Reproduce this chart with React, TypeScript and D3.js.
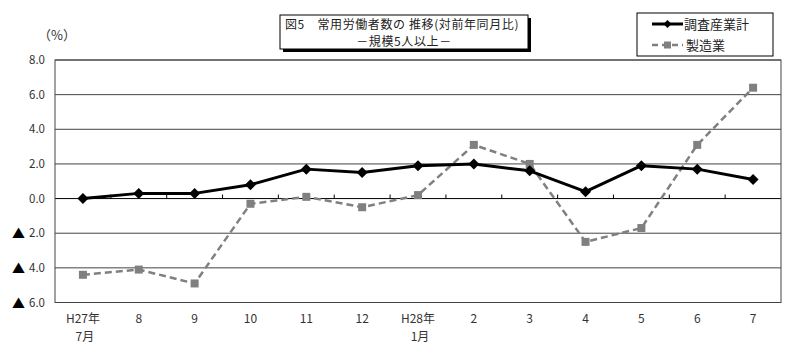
import React from "react";
import * as d3 from "d3";

const categories = ["H27年|7月", "8", "9", "10", "11", "12", "H28年|1月", "2", "3", "4", "5", "6", "7"];
const totalValues = [0.0, 0.3, 0.3, 0.8, 1.7, 1.5, 1.9, 2.0, 1.6, 0.4, 1.9, 1.7, 1.1];
const mfgValues = [-4.4, -4.1, -4.9, -0.3, 0.1, -0.5, 0.2, 3.1, 2.0, -2.5, -1.7, 3.1, 6.4];
const yTicks = [8, 6, 4, 2, 0, -2, -4, -6];
const seriesNames = ["調査産業計", "製造業"];
const titleLines = ["図5　常用労働者数の 推移(対前年同月比)", "－規模5人以上－"];

const W = 800;
const H = 355;
const left = 55;
const right = 781;
const top = 60;
const bottom = 302.5;
const FONT = "'Noto Sans CJK JP', 'Noto Sans', sans-serif";

export default function App() {
  const x = d3.scaleBand<string>().domain(categories).range([left, right]).padding(0);
  const cx = (c: string) => (x(c) as number) + x.bandwidth() / 2;
  const y = d3.scaleLinear().domain([-6, 8]).range([bottom, top]);

  const line = d3
    .line<number>()
    .x((_, i) => cx(categories[i]))
    .y((d) => y(d));

  const diamond = (px: number, py: number, r: number) =>
    `M${px},${py - r}L${px + r},${py}L${px},${py + r}L${px - r},${py}Z`;

  const fmt = d3.format(".1f");

  return (
    <svg width={W} height={H} style={{ position: "absolute", left: 0, top: 0, background: "#fff" }} fontFamily={FONT}>
      <rect x={0} y={0} width={W} height={H} fill="#fff" />
      {/* grid lines */}
      {yTicks.map((t) => (
        <line
          key={"g" + t}
          x1={left}
          x2={right}
          y1={y(t)}
          y2={y(t)}
          stroke={t === 0 ? "#000" : "#444"}
          strokeWidth={1}
        />
      ))}
      {/* plot border */}
      <rect x={left} y={top} width={right - left} height={bottom - top} fill="none" stroke="#444" strokeWidth={1} />
      {/* category ticks on zero line */}
      {categories.slice(1).map((c) => (
        <line key={"t" + c} x1={x(c)} x2={x(c)} y1={y(0) - 4} y2={y(0)} stroke="#000" strokeWidth={1} />
      ))}
      {/* y labels */}
      {yTicks.map((t) => (
        <g key={"yl" + t}>
          <text x={45} y={y(t) + 4} fontSize={11.5} textAnchor="end" fill="#333">
            {fmt(Math.abs(t))}
          </text>
          {t < 0 && (
            <text x={18.5} y={y(t) + 5} fontSize={13} textAnchor="middle" fill="#000">
              ▲
            </text>
          )}
        </g>
      ))}
      <text x={57} y={40} fontSize={13} textAnchor="middle" fill="#333">
        （%）
      </text>
      {/* x labels */}
      {categories.map((c) => {
        const parts = c.split("|");
        return (
          <g key={"xl" + c}>
            {parts.map((p, i) => (
              <text key={i} x={cx(c) + (i === 1 ? 2 : 0)} y={323 + i * 18} fontSize={12} textAnchor="middle" fill="#333">
                {p}
              </text>
            ))}
          </g>
        );
      })}
      {/* manufacturing series */}
      <path d={line(mfgValues) || ""} fill="none" stroke="#808080" strokeWidth={2.5} strokeDasharray="7,4" />
      {mfgValues.map((v, i) => (
        <rect key={"m" + i} x={cx(categories[i]) - 4} y={y(v) - 4} width={8} height={8} fill="#808080" />
      ))}
      {/* total series */}
      <path d={line(totalValues) || ""} fill="none" stroke="#000" strokeWidth={3} strokeLinejoin="round" />
      {totalValues.map((v, i) => (
        <path key={"t" + i} d={diamond(cx(categories[i]), y(v), 5.5)} fill="#000" />
      ))}
      {/* title box */}
      <rect x={283} y={18} width={248} height={34} fill="#000" />
      <rect x={280} y={15} width={248} height={34} fill="#fff" stroke="#000" strokeWidth={1} />
      <text x={285} y={28.5} fontSize={12} letterSpacing={0.6} fill="#222">
        {titleLines[0]}
      </text>
      <text x={404} y={46} fontSize={12} letterSpacing={0.6} textAnchor="middle" fill="#222">
        {titleLines[1]}
      </text>
      {/* legend */}
      <rect x={637} y={13} width={136} height={43} fill="#fff" stroke="#000" strokeWidth={1} />
      <line x1={652} x2={683} y1={24} y2={24} stroke="#000" strokeWidth={3} />
      <path d={diamond(667.5, 24, 4)} fill="#000" />
      <text x={684} y={29} fontSize={13} fill="#222">
        {seriesNames[0]}
      </text>
      <line x1={652} x2={683} y1={45} y2={45} stroke="#808080" strokeWidth={2.5} strokeDasharray="6,4" />
      <rect x={664} y={41.5} width={7} height={7} fill="#808080" />
      <text x={686} y={50} fontSize={13} fill="#222">
        {seriesNames[1]}
      </text>
    </svg>
  );
}
